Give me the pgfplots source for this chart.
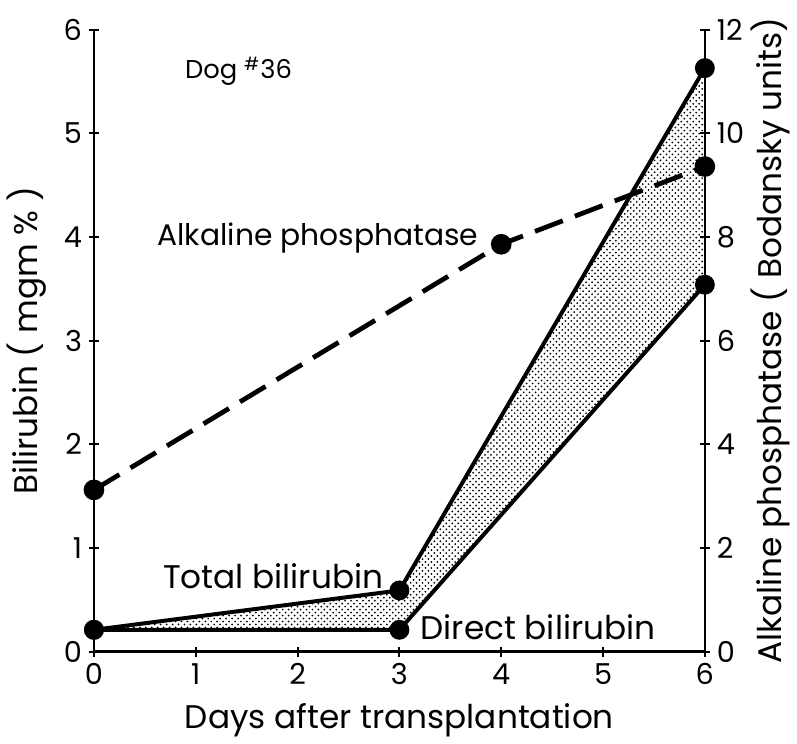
\documentclass[border=0pt]{standalone}
\usepackage{pgfplots}
\pgfplotsset{compat=1.18}
\usepgfplotslibrary{fillbetween}
\usetikzlibrary{patterns}
\usepackage{fontspec}
\setmainfont{Poppins}

\pgfplotsset{dog/.style={
  scale only axis,
  width=308pt, height=313.5pt,
  xmin=0, xmax=6,
  tick align=inside,
  major tick length=5pt,
  every tick/.style={line width=1pt, black},
  tick label style={font=\fontsize{14.5}{16}\selectfont},
  label style={font=\fontsize{16.5}{18}\selectfont},
  /pgf/number format/assume math mode=true,
}}

\begin{document}
\begin{tikzpicture}
\begin{axis}[
  dog,
  axis x line=bottom, axis y line=left,
  x axis line style={-, line width=1.1pt},
  y axis line style={-, line width=1.1pt},
  ymin=0, ymax=6,
  xtick={0,1,2,3,4,5,6},
  ytick={0,1,2,3,4,5,6},
  xlabel={Days after transplantation},
  ylabel={Bilirubin ( mgm \% )},
  xlabel style={at={(axis description cs:0.5,-0.072)}, anchor=north},
  ylabel style={at={(axis description cs:-0.067,0.5)}, anchor=south},
  clip=false,
]
\addplot[name path=total, black, line width=2pt, mark=*, mark size=4pt]
  coordinates {(0,0.21) (3,0.59) (6,5.63)};
\addplot[name path=direct, black, line width=2pt, mark=*, mark size=4pt]
  coordinates {(0,0.21) (3,0.21) (6,3.54)};
\addplot[pattern=crosshatch dots, pattern color=black] fill between[of=total and direct];

\node[font=\fontsize{13}{15}\selectfont] at (axis cs:1.42,5.6) {Dog \textsuperscript{\#}36};
\node[font=\fontsize{15}{17}\selectfont] at (axis cs:2.2,3.99) {Alkaline phosphatase};
\node[font=\fontsize{16.5}{18}\selectfont] at (axis cs:1.76,0.73) {Total bilirubin};
\node[font=\fontsize{16.5}{18}\selectfont, anchor=west] at (axis cs:3.14,0.24) {Direct bilirubin};
\end{axis}

\begin{axis}[
  dog,
  axis x line=none, axis y line=right,
  y axis line style={-, line width=1.1pt},
  ymin=0, ymax=12,
  ytick={0,2,4,6,8,10,12},
  ylabel={Alkaline phosphatase ( Bodansky units)},
  ylabel style={at={(axis description cs:1.108,0.5)}, anchor=center, rotate=0,
    font=\fontsize{16.5}{18}\selectfont},
  clip=false,
]
\addplot[black, line width=2.4pt, dash pattern=on 15pt off 6.5pt, mark=*, mark size=4pt, mark options={solid}]
  coordinates {(0,3.12) (4,7.86) (6,9.36)};
\path (axis description cs:0.5,1) ++(0,15pt);
\path (axis description cs:0.5,0) ++(0,-44pt);
\end{axis}
\end{tikzpicture}
\end{document}
